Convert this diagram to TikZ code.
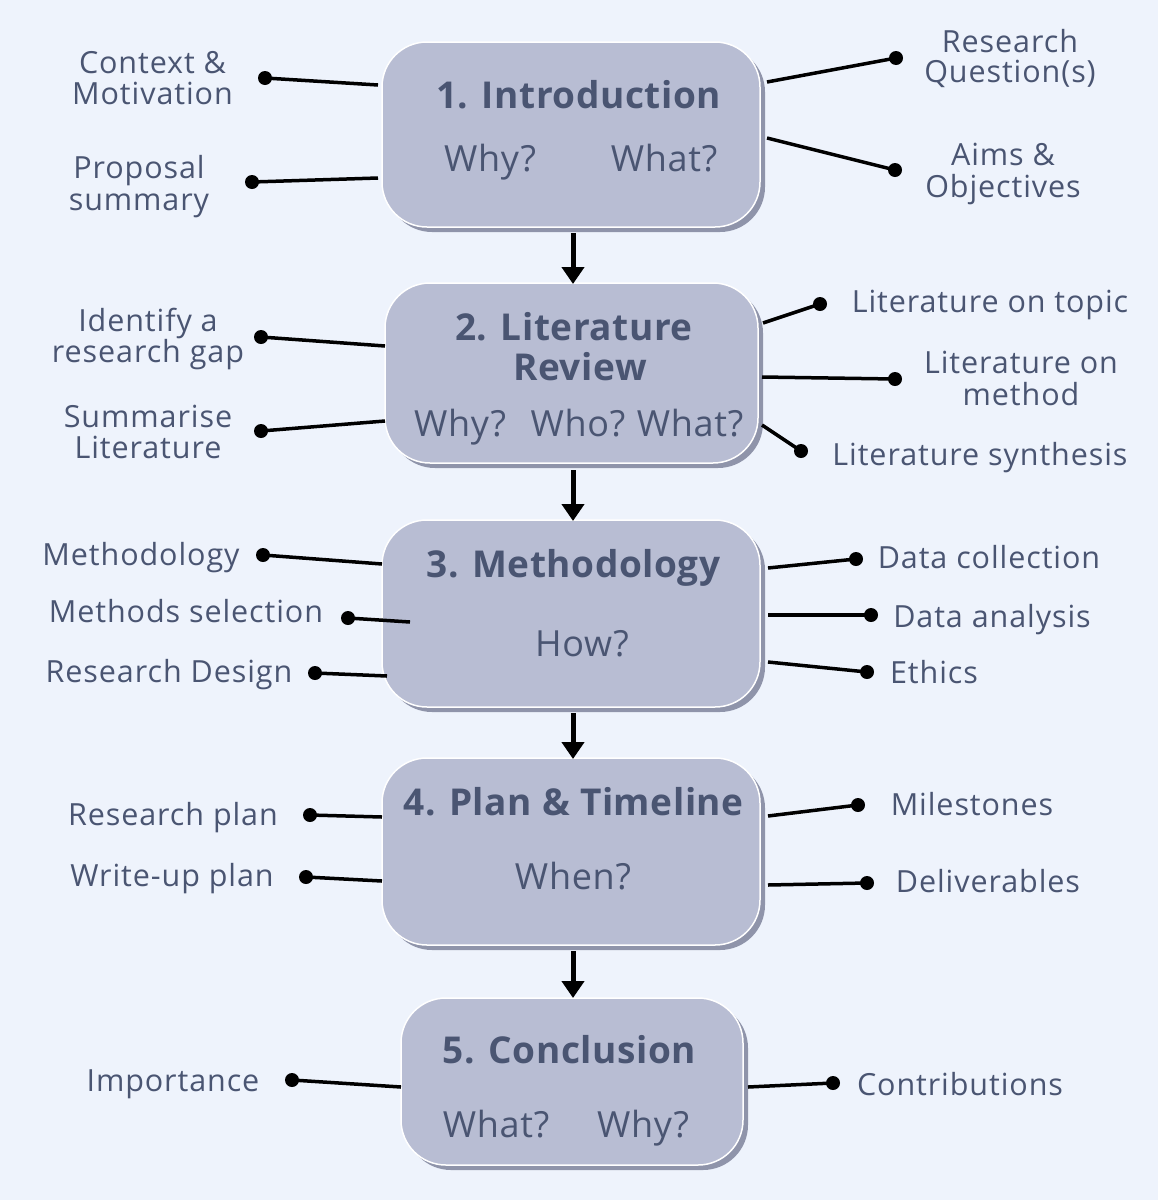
\documentclass[tikz,border=0pt]{standalone}
\usepackage{fontspec}
\setmainfont{Open Sans}
\usetikzlibrary{arrows.meta,shadows}
\definecolor{bg}{HTML}{EEF3FC}
\definecolor{boxfill}{HTML}{B8BDD3}
\definecolor{shadowc}{HTML}{8F94AA}
\definecolor{txt}{HTML}{4A5572}
\begin{document}
\begin{tikzpicture}[x=1pt,y=-1pt,
  box/.style={rounded corners=45pt, fill=boxfill, draw=white, line width=1.5pt, inner sep=0pt,
    drop shadow={shadow xshift=5pt, shadow yshift=-5pt, fill=shadowc, opacity=1}},
  lbl/.style={anchor=base, text=txt, inner sep=0pt, font=\fontsize{30.5}{32}\selectfont\addfontfeature{LetterSpace=3}},
  ttl/.style={anchor=base, text=txt, inner sep=0pt, font=\fontsize{37}{40}\selectfont\bfseries\addfontfeature{LetterSpace=1.5}},
  qst/.style={anchor=base, text=txt, inner sep=0pt, font=\fontsize{36}{38}\selectfont\addfontfeature{LetterSpace=2}},
  dot/.style={circle, fill=black, inner sep=0pt, minimum size=14pt},
  con/.style={line width=3.5pt, black},
  flow/.style={line width=5pt, black, -{Triangle[width=22pt,length=17pt]}}]
\fill[bg] (0,0) rectangle (1158,1200);
\useasboundingbox (0,0) rectangle (1158,1200);
% boxes
\node[box, minimum width=378pt, minimum height=185pt] (b1) at (571,134.5) {};
\node[box, minimum width=373pt, minimum height=180pt] (b2) at (571.5,373) {};
\node[box, minimum width=378pt, minimum height=187pt] (b3) at (571,613.5) {};
\node[box, minimum width=378pt, minimum height=187pt] (b4) at (571,851.5) {};
\node[box, minimum width=342pt, minimum height=167pt] (b5) at (572,1081.5) {};
% box texts
\node[ttl] (t1) at (578.5,108) {1. Introduction};
\node[qst] (q1a) at (490,171) {Why?};
\node[qst] (q1b) at (664,171) {What?};
\node[ttl] (t2a) at (574,340) {2. Literature};
\node[ttl] (t2b) at (580,380) {Review};
\node[qst] (q2a) at (460,436) {Why?};
\node[qst] (q2b) at (578,436) {Who?};
\node[qst] (q2c) at (690,436) {What?};
\node[ttl] (t3) at (573.5,577) {3. Methodology};
\node[qst] (q3) at (582,656) {How?};
\node[ttl] (t4) at (573.5,815) {4. Plan \& Timeline};
\node[qst] (q4) at (573,889) {When?};
\node[ttl] (t5) at (569.5,1063) {5. Conclusion};
\node[qst] (q5a) at (496,1137) {What?};
\node[qst] (q5b) at (643,1137) {Why?};
% flow arrows
\foreach \i/\j/\ya/\yb in {1/2/233/284, 2/3/470/521, 3/4/713/759, 4/5/951/998}{
  \coordinate (s\i) at (573,\ya);
  \coordinate (e\j) at (573,\yb);
  \draw[flow] (s\i) -- (e\j);
}
% labels
\node[lbl] (l1) at (152.5,73) {Context \&};
\node[lbl] (l2) at (152.5,104) {Motivation};
\node[lbl] (l3) at (139,178) {Proposal};
\node[lbl] (l4) at (139,210) {summary};
\node[lbl] (r1) at (1010,52) {Research};
\node[lbl] (r2) at (1010,82) {Question(s)};
\node[lbl] (r3) at (1003,165) {Aims \&};
\node[lbl] (r4) at (1003,197) {Objectives};
\node[lbl] (l5) at (148,331) {Identify a};
\node[lbl] (l6) at (148,362) {research gap};
\node[lbl] (l7) at (148,427) {Summarise};
\node[lbl] (l8) at (148,458) {Literature};
\node[lbl] (r5) at (990,312) {Literature on topic};
\node[lbl] (r6) at (1021,373) {Literature on};
\node[lbl] (r7) at (1021,405) {method};
\node[lbl] (r8) at (980,465) {Literature synthesis};
\node[lbl] (l9) at (141,565) {Methodology};
\node[lbl] (l10) at (186,622) {Methods selection};
\node[lbl] (l11) at (169,682) {Research Design};
\node[lbl] (r9) at (989,568) {Data collection};
\node[lbl] (r10) at (992,627) {Data analysis};
\node[lbl] (r11) at (934,683) {Ethics};
\node[lbl] (l12) at (173,825) {Research plan};
\node[lbl] (l13) at (172,886) {Write-up plan};
\node[lbl] (r12) at (972,815) {Milestones};
\node[lbl] (r13) at (988,892) {Deliverables};
\node[lbl] (l14) at (173,1091) {Importance};
\node[lbl] (r14) at (960,1095) {Contributions};
% dots and connector ends
\foreach \n/\dx/\dy/\cx/\cy in {
  a1/265/78/378/85, a2/252/182/378/178, a3/896/58/767/82, a4/895/170/767/138,
  a5/261/337/385/346, a6/261/431/385/421, a7/820/304/763/323, a8/895/379/762/377, a9/801/451/762/425,
  a10/263/555/382/564, a11/348/618/410/622, a12/315/673/387/676,
  a13/856/559/768/568, a14/871/615/768/615, a15/867/672/768/662,
  a16/310/815/382/817, a17/306/877/382/881, a18/858/805/768/816, a19/867/883/768/885,
  a20/292/1080/401/1087, a21/833/1083/748/1087}{
  \node[dot] (d\n) at (\dx,\dy) {};
  \coordinate (c\n) at (\cx,\cy);
  \draw[con] (c\n) -- (d\n.center);
}
\end{tikzpicture}
\end{document}
